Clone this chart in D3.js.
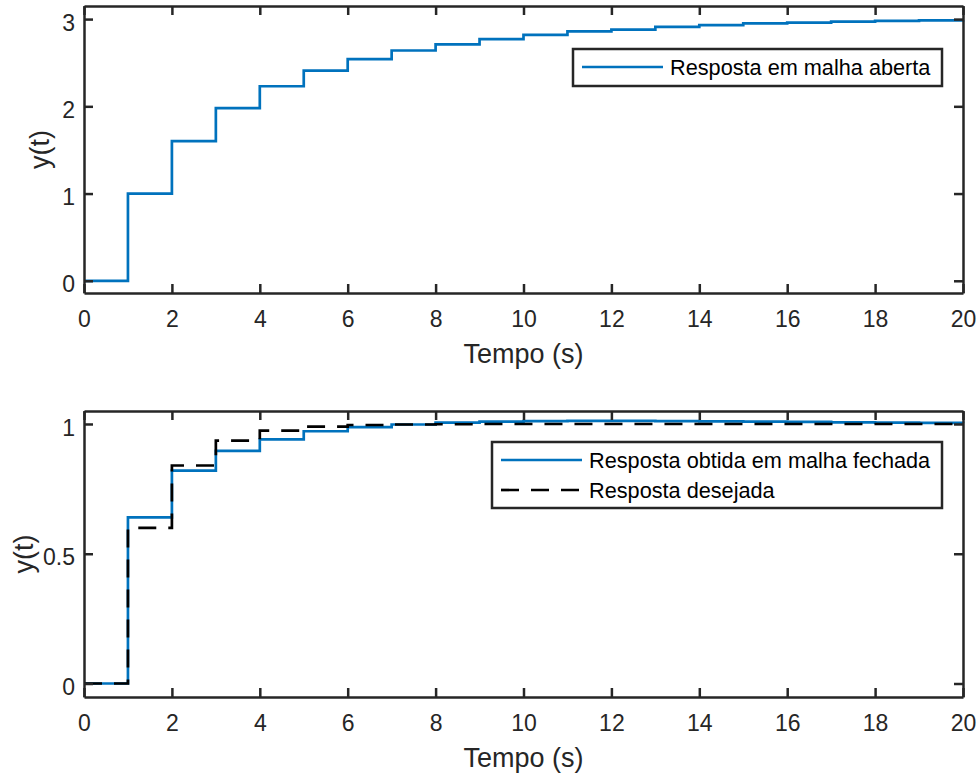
<!DOCTYPE html>
<html>
<head>
<meta charset="utf-8">
<script src="https://cdn.jsdelivr.net/npm/d3@7"></script>
<style>
  html, body { margin: 0; padding: 0; background: #fff; }
  svg { display: block; }
  svg text { font-family: "Liberation Sans", Arial, Helvetica, sans-serif; }
  .axis path, .axis line { stroke: #262626; }
  .axis text { fill: #262626; }
</style>
</head>
<body>
<svg width="978" height="773"></svg>
<script>
// time samples (s)
const TIME = [0, 1, 2, 3, 4, 5, 6, 7, 8, 9, 10, 11, 12, 13, 14, 15, 16, 17, 18, 19, 20];
// open loop step response
const OPEN_LOOP = [0, 1, 1.6, 1.98, 2.23, 2.41, 2.54, 2.64, 2.71, 2.77, 2.82,
                   2.86, 2.88, 2.91, 2.93, 2.95, 2.96, 2.97, 2.98, 2.985, 2.99];
// closed loop response obtained
const CLOSED_LOOP = [0, 0.64, 0.82, 0.896, 0.941, 0.972, 0.988, 0.998, 1.005, 1.009, 1.011,
                     1.012, 1.012, 1.011, 1.01, 1.009, 1.008, 1.006, 1.005, 1.004, 1.003];
// desired response
const DESIRED = [0, 0.6, 0.84, 0.936, 0.974, 0.99, 0.996, 0.998, 0.999, 1, 1,
                 1, 1, 1, 1, 1, 1, 1, 1, 1, 1];

const X_TICKS = [0, 2, 4, 6, 8, 10, 12, 14, 16, 18, 20];
const TOP_Y_TICKS = [0, 1, 2, 3];
const BOTTOM_Y_TICKS = [0, 0.5, 1];

const BLUE = '#0072bd';
const INK = '#262626';
const TICK_FONT = 23;
const LABEL_FONT = 27;
const LEGEND_FONT = 21.7;

let svg = d3.select('svg');
let left = 84, right = 963;

function drawPanel(opts) {
  let x = d3.scaleLinear().domain([0, 20]).range([left, right]);
  let y = d3.scaleLinear().domain(opts.yDomain).range([opts.bottom, opts.top]);
  let g = svg.append('g');

  // data
  let line = d3.line()
    .x((d) => x(d[0]))
    .y((d) => y(d[1]))
    .curve(d3.curveStepAfter);
  for (let s of opts.series) {
    g.append('path')
      .datum(TIME.map((t, i) => [t, s.values[i]]))
      .attr('fill', 'none')
      .attr('stroke', s.color)
      .attr('stroke-width', 2.7)
      .attr('stroke-dasharray', s.dash || null)
      .attr('d', line);
  }

  // axes, ticks inward on all four sides
  let bottomAxis = g.append('g')
    .attr('class', 'axis')
    .attr('transform', 'translate(0,' + opts.bottom + ')')
    .call(d3.axisBottom(x).tickValues(X_TICKS).tickSizeInner(-9).tickSizeOuter(0).tickPadding(0));
  bottomAxis.selectAll('text')
    .attr('y', 34)
    .attr('dy', null);

  g.append('g')
    .attr('class', 'axis')
    .attr('transform', 'translate(0,' + opts.top + ')')
    .call(d3.axisTop(x).tickValues(X_TICKS).tickSizeInner(-9).tickSizeOuter(0).tickFormat(''));

  let leftAxis = g.append('g')
    .attr('class', 'axis')
    .attr('transform', 'translate(' + left + ',0)')
    .call(d3.axisLeft(y).tickValues(opts.yTicks).tickSizeInner(-9).tickSizeOuter(0).tickPadding(9)
      .tickFormat(d3.format('')));
  leftAxis.selectAll('text')
    .attr('dy', '0.48em');

  g.append('g')
    .attr('class', 'axis')
    .attr('transform', 'translate(' + right + ',0)')
    .call(d3.axisRight(y).tickValues(opts.yTicks).tickSizeInner(-9).tickSizeOuter(0).tickFormat(''));

  g.selectAll('.axis')
    .attr('font-family', null)
    .attr('font-size', TICK_FONT);
  g.selectAll('.axis path').attr('stroke-width', 2.5);
  g.selectAll('.axis line').attr('stroke-width', 2.5);

  // labels
  g.append('text')
    .attr('x', (left + right) / 2)
    .attr('y', opts.bottom + 70)
    .attr('text-anchor', 'middle')
    .attr('fill', INK)
    .style('font-size', LABEL_FONT + 'px')
    .text('Tempo (s)');

  g.append('text')
    .attr('transform', 'translate(' + opts.yLabelX + ',' + ((opts.top + opts.bottom) / 2) + ') rotate(-90)')
    .attr('text-anchor', 'middle')
    .attr('fill', INK)
    .style('font-size', LABEL_FONT + 'px')
    .text('y(t)');

  // legend
  let lg = opts.legend;
  g.append('rect')
    .attr('x', lg.x)
    .attr('y', lg.y)
    .attr('width', lg.w)
    .attr('height', lg.h)
    .attr('fill', '#fff')
    .attr('stroke', INK)
    .attr('stroke-width', 2.5);
  opts.series.forEach((s, i) => {
    let cy = lg.firstRow + i * lg.rowGap;
    g.append('line')
      .attr('x1', lg.x + 9)
      .attr('x2', lg.x + 90)
      .attr('y1', cy)
      .attr('y2', cy)
      .attr('stroke', s.color)
      .attr('stroke-width', 2.7)
      .attr('stroke-dasharray', s.dash || null);
    g.append('text')
      .attr('x', lg.x + 97)
      .attr('y', cy)
      .attr('dy', '0.36em')
      .attr('fill', '#000')
      .style('font-size', LEGEND_FONT + 'px')
      .text(s.name);
  });
}

drawPanel({
  top: 6,
  bottom: 293,
  yDomain: [-0.14, 3.15],
  yTicks: TOP_Y_TICKS,
  yLabelX: 49,
  series: [
    { name: 'Resposta em malha aberta', values: OPEN_LOOP, color: BLUE }
  ],
  legend: { x: 573, y: 49, w: 369, h: 37, firstRow: 67, rowGap: 30 }
});

drawPanel({
  top: 411,
  bottom: 697,
  yDomain: [-0.052, 1.05],
  yTicks: BOTTOM_Y_TICKS,
  yLabelX: 33,
  series: [
    { name: 'Resposta obtida em malha fechada', values: CLOSED_LOOP, color: BLUE },
    { name: 'Resposta desejada', values: DESIRED, color: '#000', dash: '18,12' }
  ],
  legend: { x: 492, y: 442, w: 450, h: 66, firstRow: 460, rowGap: 30 }
});
</script>
</body>
</html>
